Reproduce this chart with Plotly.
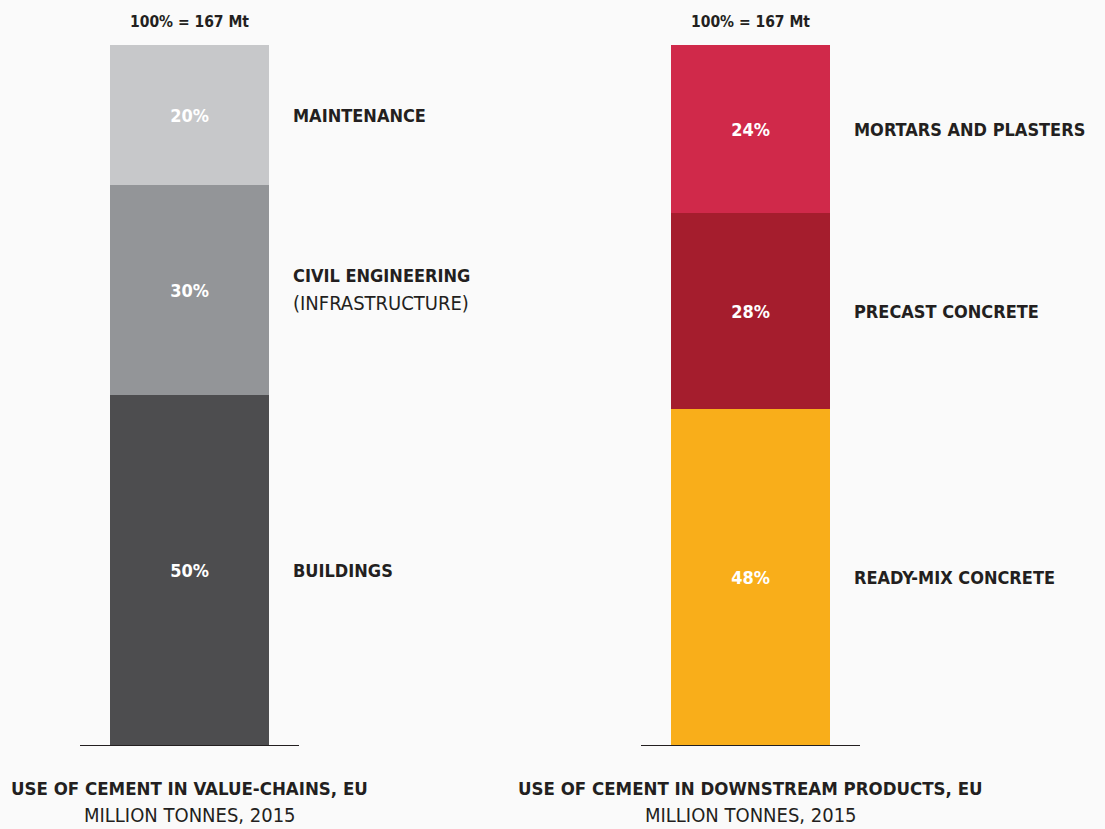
import plotly.graph_objects as go

W, H = 1105, 829

total_label = "100% = 167 Mt"

left_categories = ["BUILDINGS", "CIVIL ENGINEERING", "MAINTENANCE"]
left_subtexts = ["", "(INFRASTRUCTURE)", ""]
left_values = [50, 30, 20]
left_colors = ["#4d4d4f", "#939598", "#c7c8ca"]
left_title = "USE OF CEMENT IN VALUE-CHAINS, EU"

right_categories = ["READY-MIX CONCRETE", "PRECAST CONCRETE", "MORTARS AND PLASTERS"]
right_subtexts = ["", "", ""]
right_values = [48, 28, 24]
right_colors = ["#f9ae1a", "#a51d2d", "#d0294a"]
right_title = "USE OF CEMENT IN DOWNSTREAM PRODUCTS, EU"

subtitle = "MILLION TONNES, 2015"

FONT = "DejaVu Sans Condensed, Liberation Sans Narrow, Arial Narrow, sans-serif"
DARK = "#231f20"
BG = "#fafafa"

fig = go.Figure()

panels = [
    ("x", "y", left_categories, left_subtexts, left_values, left_colors, left_title, 80, 299),
    ("x2", "y2", right_categories, right_subtexts, right_values, right_colors, right_title, 641, 860),
]

y0 = (H - 745) / H
y1 = (H - 45) / H

annotations = []
for i, (xa, ya, cats, subs, vals, cols, title, px0, px1) in enumerate(panels):
    cum = 0
    for c, s, v, col in zip(cats, subs, vals, cols):
        fig.add_trace(go.Bar(
            x=[0], y=[v], name=c, marker=dict(color=col, line=dict(width=0)),
            width=1, text=[f"{v}%"], textposition="inside", insidetextanchor="middle",
            textangle=0, constraintext="none",
            textfont=dict(family=FONT, size=18, color="white", weight="bold"),
            xaxis=xa, yaxis=ya, showlegend=False, hoverinfo="skip",
        ))
        mid = cum + v / 2
        annotations.append(dict(
            xref="paper", yref=ya, x=(px1 - 8) / W, y=mid, text=f"<b>{c}</b>",
            yshift=15 if s else 0,
            xanchor="left", yanchor="middle", showarrow=False, align="left",
            font=dict(family=FONT, size=18, color=DARK),
        ))
        if s:
            annotations.append(dict(
                xref="paper", yref=ya, x=(px1 - 8) / W, y=mid, text=s, yshift=-13,
                xanchor="left", yanchor="middle", showarrow=False, align="left",
                font=dict(family=FONT, size=20, color=DARK),
            ))
        cum += v
    annotations.append(dict(
        xref=xa, yref=ya, x=0, y=100, yshift=12, text=f"<b>{total_label}</b>",
        xanchor="center", yanchor="bottom", showarrow=False,
        font=dict(family=FONT, size=15.5, color=DARK),
    ))
    annotations.append(dict(
        xref=xa, yref="paper", x=0, y=1 - 788 / H, text=f"<b>{title}</b>",
        xanchor="center", yanchor="middle", showarrow=False,
        font=dict(family=FONT, size=18.5, color=DARK),
    ))
    annotations.append(dict(
        xref=xa, yref="paper", x=0, y=1 - 815 / H, text=subtitle,
        xanchor="center", yanchor="middle", showarrow=False,
        font=dict(family=FONT, size=20, color=DARK),
    ))

half = (219 / 159) / 2

axis_common = dict(showgrid=False, zeroline=False, showticklabels=False, ticks="",
                   range=[-half, half], showline=True, linecolor=DARK, linewidth=1.2,
                   fixedrange=True)
yaxis_common = dict(showgrid=False, zeroline=False, showticklabels=False, ticks="",
                    range=[0, 100], showline=False, domain=[y0, y1], fixedrange=True)

fig.update_layout(
    width=W, height=H,
    margin=dict(l=0, r=0, t=0, b=0),
    paper_bgcolor=BG, plot_bgcolor=BG,
    barmode="stack", bargap=0,
    xaxis=dict(**axis_common, domain=[80 / W, 299 / W], anchor="y"),
    xaxis2=dict(**axis_common, domain=[641 / W, 860 / W], anchor="y2"),
    yaxis=dict(**yaxis_common, anchor="x"),
    yaxis2=dict(**yaxis_common, anchor="x2"),
    annotations=annotations,
    font=dict(family=FONT, color=DARK),
)

fig.write_html(
    "out.html",
    config={"displayModeBar": False},
    post_script="document.body.style.margin='0';document.body.style.background='#fafafa';document.body.style.overflow='hidden';",
)
